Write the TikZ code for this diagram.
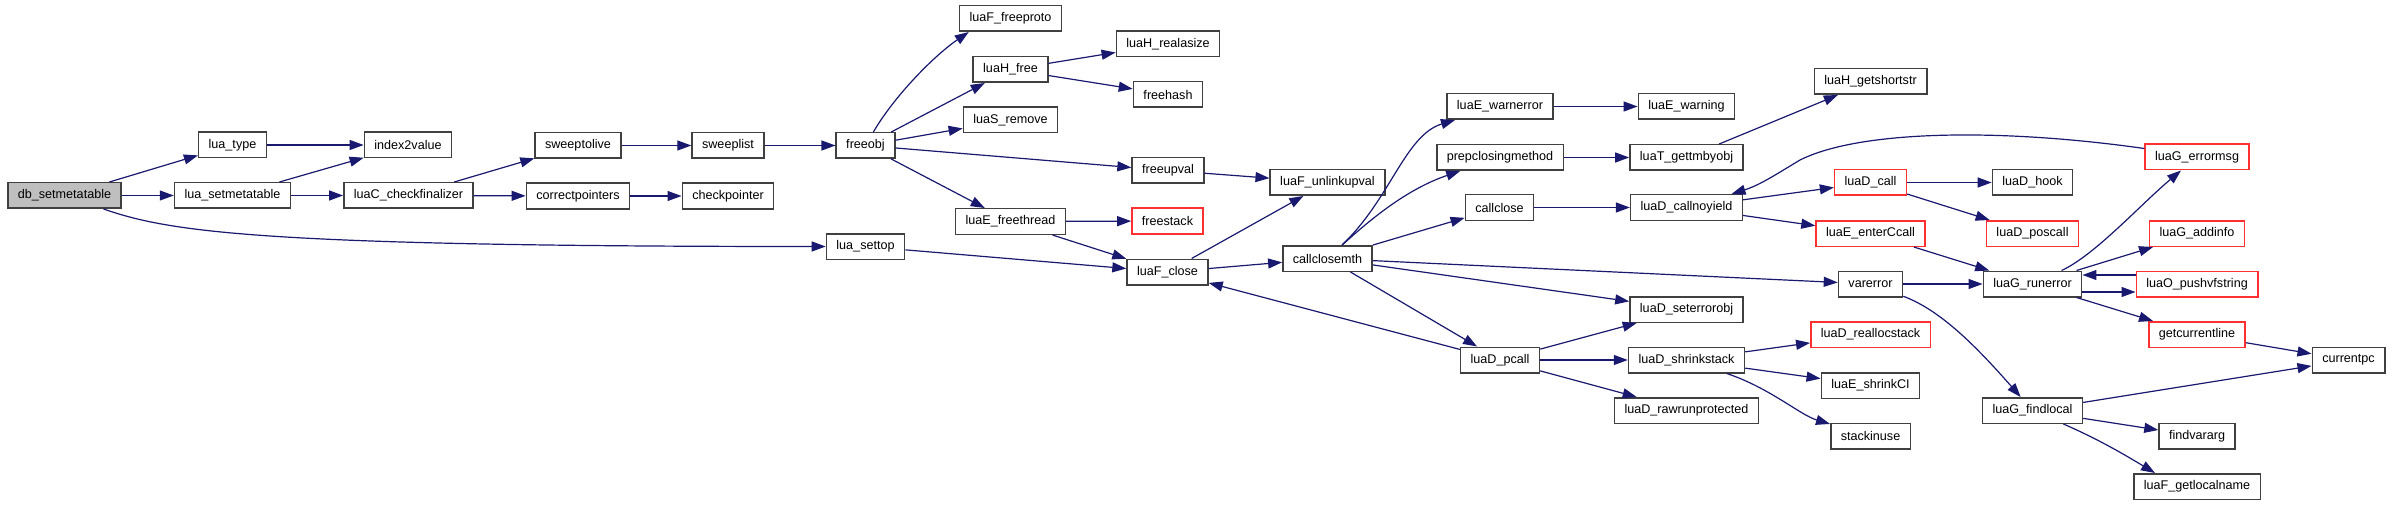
\documentclass[tikz,border=0pt]{standalone}
\usepackage{fontspec}
\setmainfont{Liberation Sans}
\usetikzlibrary{arrows.meta}

\definecolor{edgeblue}{HTML}{191970}
\definecolor{boxgray}{HTML}{404040}
\definecolor{rootgray}{HTML}{BFBFBF}
\definecolor{boxred}{HTML}{FF3030}

\begin{document}
\begin{tikzpicture}[x=1pt, y=-1pt,
    fn/.style={draw=boxgray, line width=1.5pt, fill=white, minimum height=25.5pt,
        inner xsep=10pt, inner ysep=0pt, font=\fontsize{12.6}{14}\selectfont},
    fnred/.style={fn, draw=boxred},
    fnroot/.style={fn, fill=rootgray},
    call/.style={draw=edgeblue, line width=1.2pt, -{Triangle[length=14pt,width=10pt]}}]

\useasboundingbox[fill=white] (0,0) rectangle (2392,505);

% -----------------------------
% Functions (one column per call depth)
% -----------------------------
\node[fnroot] (db) at (64.5,195.5) {db\_setmetatable};

\node[fn] (luatype) at (232.5,145) {lua\_type};
\node[fn] (setmeta) at (232.5,195.5) {lua\_setmetatable};

\node[fn] (index2value) at (408,145) {index2value};
\node[fn] (checkfin)    at (408.5,195.5) {luaC\_checkfinalizer};

\node[fn] (sweeptolive) at (578,145.5) {sweeptolive};
\node[fn] (correctptr)  at (578,196) {correctpointers};

\node[fn] (sweeplist)    at (728,145.5) {sweeplist};
\node[fn] (checkpointer) at (728,196) {checkpointer};

\node[fn] (freeobj) at (865.5,145.5) {freeobj};
\node[fn] (settop)  at (865.5,246.5) {lua\_settop};

\node[fn] (freeproto)  at (1010.5,18.5) {luaF\_freeproto};
\node[fn] (hfree)      at (1010.5,69.5) {luaH\_free};
\node[fn] (sremove)    at (1010.5,120) {luaS\_remove};
\node[fn] (freethread) at (1010.5,221.5) {luaE\_freethread};

\node[fn]    (realasize) at (1168,44) {luaH\_realasize};
\node[fn]    (freehash)  at (1168,94.5) {freehash};
\node[fn]    (freeupval) at (1168,170.5) {freeupval};
\node[fnred] (freestack) at (1167.5,221) {freestack};
\node[fn]    (fclose)    at (1167.5,272) {luaF\_close};

\node[fn] (unlinkupval) at (1327.5,182.5) {luaF\_unlinkupval};
\node[fn] (closemth)    at (1327.5,258.5) {callclosemth};

\node[fn] (warnerror) at (1500,106.5) {luaE\_warnerror};
\node[fn] (prepclose) at (1500,157.5) {prepclosingmethod};
\node[fn] (callclose) at (1499.5,207.5) {callclose};
\node[fn] (pcall)     at (1500,360) {luaD\_pcall};

\node[fn] (warning)     at (1686.5,106.5) {luaE\_warning};
\node[fn] (gettm)       at (1686.5,157.5) {luaT\_gettmbyobj};
\node[fn] (callnoyield) at (1686.5,207.5) {luaD\_callnoyield};
\node[fn] (seterrorobj) at (1686.5,309.5) {luaD\_seterrorobj};
\node[fn] (shrinkstack) at (1686.5,360) {luaD\_shrinkstack};
\node[fn] (rawrun)      at (1686.5,410.5) {luaD\_rawrunprotected};

\node[fn]    (getshortstr)  at (1870.5,81.5) {luaH\_getshortstr};
\node[fnred] (dcall)        at (1870.5,182.5) {luaD\_call};
\node[fnred] (enterccall)   at (1870.5,233.5) {luaE\_enterCcall};
\node[fn]    (varerror)     at (1870.5,284) {varerror};
\node[fnred] (reallocstack) at (1870.5,334.5) {luaD\_reallocstack};
\node[fn]    (shrinkci)     at (1870.5,385.5) {luaE\_shrinkCI};
\node[fn]    (stackinuse)   at (1870.5,436) {stackinuse};

\node[fn]    (dhook)     at (2032.5,182.5) {luaD\_hook};
\node[fnred] (poscall)   at (2032.5,233.5) {luaD\_poscall};
\node[fn]    (runerror)  at (2032.5,284) {luaG\_runerror};
\node[fn]    (findlocal) at (2032.5,410.5) {luaG\_findlocal};

\node[fnred] (errormsg)     at (2197,157) {luaG\_errormsg};
\node[fnred] (addinfo)      at (2197,233.5) {luaG\_addinfo};
\node[fnred] (pushvfstring) at (2197,284) {luaO\_pushvfstring};
\node[fnred] (getcurline)   at (2197,334.5) {getcurrentline};
\node[fn]    (findvararg)   at (2197,436) {findvararg};
\node[fn]    (getlocalname) at (2197,486.5) {luaF\_getlocalname};

\node[fn] (currentpc) at (2348.5,360) {currentpc};

% -----------------------------
% Calls
% -----------------------------
\draw[call] (db) -- (luatype);
\draw[call] (db) -- (setmeta);
\draw[call] (db) .. controls (170,232) and (260,246.5) .. (settop);
\draw[call] (luatype) -- (index2value);
\draw[call] (setmeta) -- (index2value);
\draw[call] (setmeta) -- (checkfin);
\draw[call] (checkfin) -- (sweeptolive);
\draw[call] (checkfin) -- (correctptr);
\draw[call] (sweeptolive) -- (sweeplist);
\draw[call] (sweeplist) -- (freeobj);
\draw[call] (correctptr) -- (checkpointer);

% freeobj and its callees
\draw[call] (freeobj) .. controls (895,95) and (935,55) .. ([xshift=10pt]freeproto.south west);
\draw[call] (freeobj) -- (hfree);
\draw[call] (freeobj) -- (sremove);
\draw[call] (freeobj) -- (freeupval);
\draw[call] (freeobj) -- (freethread);
\draw[call] (hfree) -- (realasize);
\draw[call] (hfree) -- (freehash);
\draw[call] (freeupval) -- (unlinkupval);
\draw[call] (freethread) -- (freestack);
\draw[call] (freethread) -- (fclose);
\draw[call] (settop) -- (fclose);
\draw[call] (fclose) -- (unlinkupval);
\draw[call] (fclose) -- (closemth);
\draw[call] (pcall) -- (fclose);

% callclosemth
\draw[call] (closemth) .. controls (1390,200) and (1405,135) .. (warnerror);
\draw[call] (closemth) .. controls (1375,215) and (1410,188) .. (prepclose);
\draw[call] (closemth) -- (callclose);
\draw[call] (closemth) -- (varerror);
\draw[call] (closemth) -- (seterrorobj);
\draw[call] (closemth) -- (pcall);
\draw[call] (warnerror) -- (warning);
\draw[call] (prepclose) -- (gettm);
\draw[call] (gettm) -- (getshortstr);
\draw[call] (callclose) -- (callnoyield);
\draw[call] (callnoyield) -- (dcall);
\draw[call] (callnoyield) -- (enterccall);
\draw[call] ([yshift=-5pt]errormsg.north west) .. controls (2000,128) and (1860,130) .. (1800,160)
    .. controls (1775,175) and (1760,185) .. ([xshift=45pt]callnoyield.north);
\draw[call] (dcall) -- (dhook);
\draw[call] (dcall) -- (poscall);
\draw[call] (enterccall) -- (runerror);

% error reporting
\draw[call] (varerror) -- (runerror);
\draw[call] (varerror) .. controls (1940,310) and (1975,345) .. (findlocal);
\draw[call] (runerror) .. controls (2095,255) and (2140,205) .. (errormsg);
\draw[call] (runerror) -- (addinfo);
\draw[call] ([yshift=-8pt]runerror.east) -- ([yshift=-8pt]pushvfstring.west);
\draw[call] ([yshift=9pt]pushvfstring.west) -- ([yshift=9pt]runerror.east);
\draw[call] (runerror) -- (getcurline);
\draw[call] (getcurline) -- (currentpc);
\draw[call] (findlocal) -- (currentpc);
\draw[call] (findlocal) -- (findvararg);
\draw[call] (findlocal) .. controls (2100,440) and (2125,455) .. ([xshift=-42pt]getlocalname.north);

% protected call
\draw[call] (pcall) -- (seterrorobj);
\draw[call] (pcall) -- (shrinkstack);
\draw[call] (pcall) -- (rawrun);
\draw[call] (shrinkstack) -- (reallocstack);
\draw[call] (shrinkstack) -- (shrinkci);
\draw[call] (shrinkstack) .. controls (1770,388) and (1800,415) .. (stackinuse);

\end{tikzpicture}
\end{document}
